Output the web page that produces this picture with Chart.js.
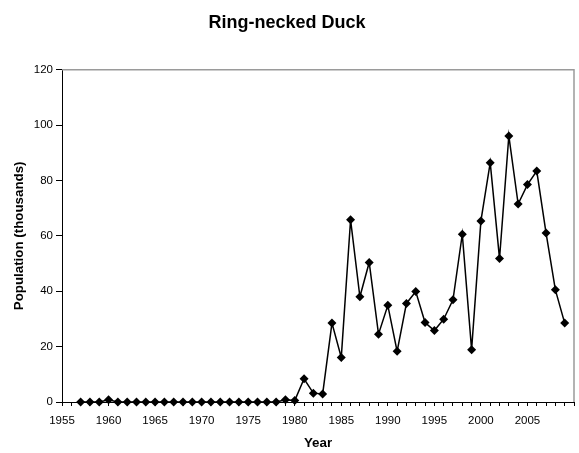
<!DOCTYPE html>
<html>
<head>
<meta charset="utf-8">
<title>Ring-necked Duck</title>
<script src="https://cdn.jsdelivr.net/npm/chart.js@4/dist/chart.umd.min.js"></script>
<style>
  html, body { margin: 0; padding: 0; background: #ffffff; }
  #wrap { width: 579px; height: 453px; }
</style>
</head>
<body>
<div id="wrap"><canvas id="chart" width="579" height="453"></canvas></div>
<script>
// Survey years and population estimates (thousands of birds)
const years = [
  1957, 1958, 1959, 1960, 1961, 1962, 1963, 1964, 1965, 1966,
  1967, 1968, 1969, 1970, 1971, 1972, 1973, 1974, 1975, 1976,
  1977, 1978, 1979, 1980, 1981, 1982, 1983, 1984, 1985, 1986,
  1987, 1988, 1989, 1990, 1991, 1992, 1993, 1994, 1995, 1996,
  1997, 1998, 1999, 2000, 2001, 2002, 2003, 2004, 2005, 2006,
  2007, 2008, 2009
];
const population = [
  0, 0, 0, 0.8, 0, 0, 0, 0, 0, 0,
  0, 0, 0, 0, 0, 0, 0, 0, 0, 0,
  0, 0, 0.8, 0.5, 8.4, 3.2, 2.9, 28.5, 16.1, 65.8,
  38.0, 50.4, 24.5, 34.9, 18.3, 35.6, 39.9, 28.7, 25.8, 29.9,
  36.9, 60.6, 18.9, 65.4, 86.4, 51.8, 96.1, 71.5, 78.5, 83.4,
  61.0, 40.5, 28.5
];
const yearLabels = [1955, 1960, 1965, 1970, 1975, 1980, 1985, 1990, 1995, 2000, 2005];
const yTicks = [0, 20, 40, 60, 80, 100, 120];

const FONT = "'Liberation Sans', Arial, Helvetica, sans-serif";

// grey frame along the top and right of the plot area
const plotFrame = {
  id: 'plotFrame',
  afterDraw(chart) {
    const { ctx, chartArea: a } = chart;
    ctx.save();
    ctx.strokeStyle = '#9a9a9a';
    ctx.lineWidth = 1.5;
    ctx.beginPath();
    ctx.moveTo(a.left, a.top);
    ctx.lineTo(a.right, a.top);
    ctx.lineTo(a.right, a.bottom);
    ctx.stroke();
    ctx.restore();
  }
};

new Chart(document.getElementById('chart'), {
  type: 'line',
  data: {
    datasets: [{
      data: years.map((y, i) => ({ x: y, y: population[i] })),
      borderColor: '#000000',
      borderWidth: 1.5,
      backgroundColor: '#000000',
      pointStyle: 'rectRot',
      pointRadius: 4.5,
      pointBorderWidth: 0,
      pointBackgroundColor: '#000000',
      tension: 0,
      clip: false
    }]
  },
  options: {
    responsive: false,
    animation: false,
    devicePixelRatio: 1,
    layout: { padding: { top: 0, right: 5, bottom: 0, left: 0 } },
    plugins: {
      legend: { display: false },
      tooltip: { enabled: false },
      title: {
        display: true,
        text: 'Ring-necked Duck',
        color: '#000000',
        font: { family: FONT, size: 18, weight: 'bold' },
        padding: { top: 12, bottom: 36.1 }
      }
    },
    scales: {
      x: {
        type: 'linear',
        min: 1955,
        max: 2010,
        afterFit(scale) {
          scale.height = 51;
          scale.paddingLeft = 0;
          scale.paddingRight = 0;
        },
        border: { display: true, color: '#000000', width: 1 },
        grid: {
          display: true,
          drawOnChartArea: false,
          drawTicks: true,
          tickLength: 4,
          color: '#000000'
        },
        ticks: {
          stepSize: 1,
          autoSkip: false,
          maxRotation: 0,
          color: '#000000',
          padding: 8,
          font: { family: FONT, size: 11.5 },
          callback: (v) => yearLabels.includes(v) ? String(v) : ''
        },
        title: {
          display: true,
          text: 'Year',
          color: '#000000',
          font: { family: FONT, size: 13.33, weight: 'bold' },
          padding: { top: 0, bottom: 2 }
        }
      },
      y: {
        min: 0,
        max: 120,
        afterFit(scale) { scale.width = 62; },
        border: { display: true, color: '#000000', width: 1 },
        grid: {
          display: true,
          drawOnChartArea: false,
          drawTicks: true,
          tickLength: 6,
          color: '#000000'
        },
        ticks: {
          stepSize: 20,
          color: '#000000',
          padding: 3,
          font: { family: FONT, size: 11.5 },
          callback: (v) => yTicks.includes(v) ? String(v) : ''
        },
        title: {
          display: true,
          text: 'Population (thousands)',
          color: '#000000',
          font: { family: FONT, size: 13.33, weight: 'bold' },
          padding: { top: 11, bottom: 0 }
        }
      }
    }
  },
  plugins: [plotFrame]
});
</script>
</body>
</html>
